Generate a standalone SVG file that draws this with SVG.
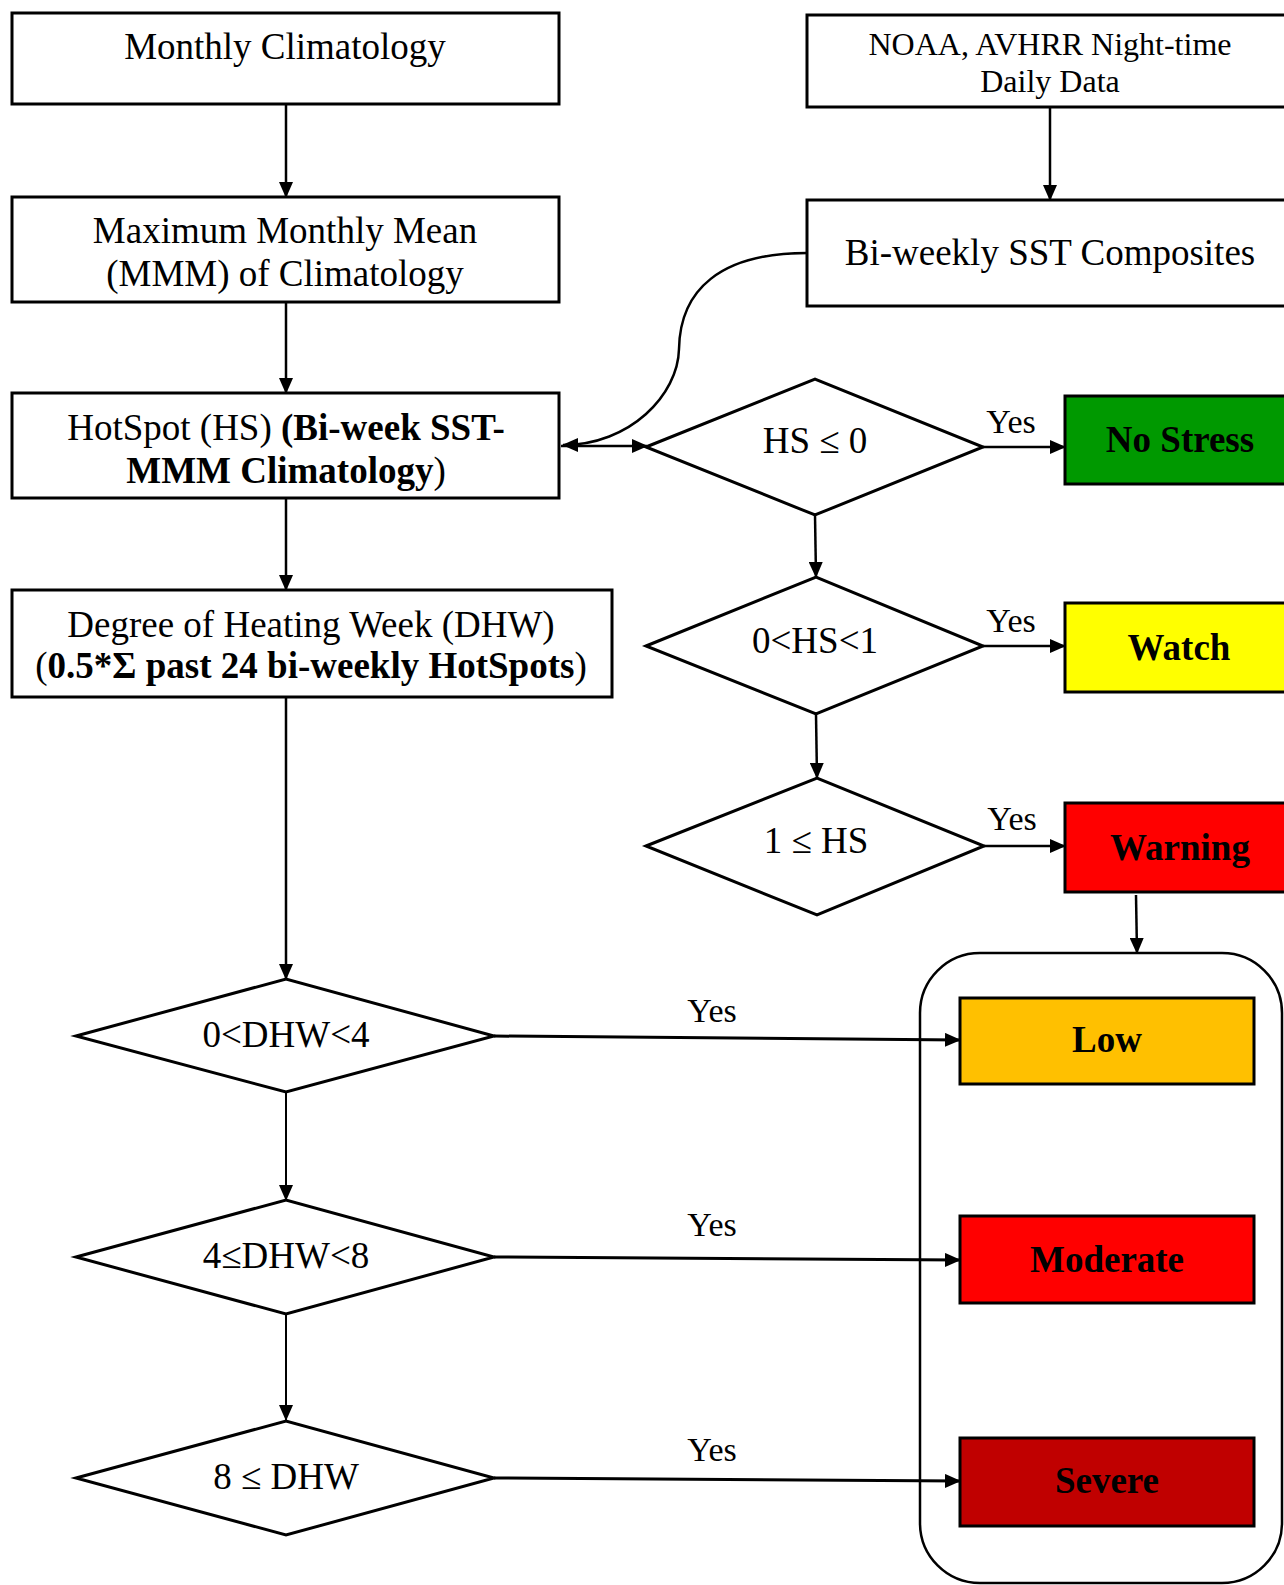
<svg xmlns="http://www.w3.org/2000/svg" width="1284" height="1585" viewBox="0 0 1284 1585">
<style>
  text { font-family: "Liberation Serif", "Times New Roman", serif; font-size: 37px; fill: #000; text-anchor: middle; }
  .box { fill: #fff; stroke: #000; stroke-width: 3; }
  .dia { fill: #fff; stroke: #000; stroke-width: 3; }
  .res { stroke: #000; stroke-width: 3; }
  .b { font-weight: bold; }
  .yes { font-size: 34px; }
  .small { font-size: 32px; }
  .con { fill: none; stroke: #000; stroke-width: 2.5; marker-end: url(#ah); }
  .thin { stroke-width: 2; }
</style>
<defs>
  <marker id="ah" markerUnits="userSpaceOnUse" markerWidth="16" markerHeight="14" refX="15" refY="7" orient="auto">
    <path d="M0,0 L16,7 L0,14 Z" fill="#000"/>
  </marker>
</defs>
<rect width="1284" height="1585" fill="#fff"/>

<g id="connectors">
  <line class="con" x1="286" y1="104" x2="286" y2="197"/>
  <line class="con" x1="286" y1="302" x2="286" y2="393"/>
  <line class="con" x1="286" y1="498" x2="286" y2="590"/>
  <line class="con" x1="286" y1="697" x2="286" y2="979"/>
  <line class="con thin" x1="286" y1="1092" x2="286" y2="1200"/>
  <line class="con thin" x1="286" y1="1314" x2="286" y2="1420"/>
  <line class="con" x1="1050" y1="107" x2="1050" y2="200"/>
  <path class="con" d="M807,253 C720,253 680,290 679,349 C678,395 630,445 563,445"/>
  <line class="con" x1="561" y1="446" x2="647" y2="446"/>
  <line class="con" x1="983" y1="447" x2="1065" y2="447"/>
  <line class="con" x1="815" y1="515" x2="816" y2="577"/>
  <line class="con" x1="983" y1="646" x2="1065" y2="646"/>
  <line class="con" x1="816" y1="714" x2="817" y2="778"/>
  <line class="con" x1="984" y1="846" x2="1065" y2="846"/>
  <line class="con" x1="1136" y1="895" x2="1137" y2="953"/>
  <line class="con" style="stroke-width:3" x1="494" y1="1036" x2="960" y2="1040"/>
  <line class="con" style="stroke-width:3" x1="494" y1="1257" x2="960" y2="1260"/>
  <line class="con" style="stroke-width:3" x1="494" y1="1478" x2="960" y2="1481"/>
  <text class="yes" x="1011" y="433">Yes</text>
  <text class="yes" x="1011" y="632">Yes</text>
  <text class="yes" x="1012" y="830">Yes</text>
  <text class="yes" x="712" y="1022">Yes</text>
  <text class="yes" x="712" y="1236">Yes</text>
  <text class="yes" x="712" y="1461">Yes</text>
</g>

<g id="monthly-climatology">
  <rect class="box" x="12" y="13" width="547" height="91"/>
  <text x="285" y="59">Monthly Climatology</text>
</g>
<g id="mmm">
  <rect class="box" x="12" y="197" width="547" height="105"/>
  <text x="285" y="243">Maximum Monthly Mean</text>
  <text x="285" y="286">(MMM) of Climatology</text>
</g>
<g id="hotspot">
  <rect class="box" x="12" y="393" width="547" height="105"/>
  <text x="286" y="440">HotSpot (HS) <tspan class="b">(Bi-week SST-</tspan></text>
  <text x="286" y="483"><tspan class="b">MMM Climatology</tspan>)</text>
</g>
<g id="dhw">
  <rect class="box" x="12" y="590" width="600" height="107"/>
  <text x="311" y="637">Degree of Heating Week (DHW)</text>
  <text x="311" y="678">(<tspan class="b">0.5*Σ past 24 bi-weekly HotSpots</tspan>)</text>
</g>
<g id="noaa">
  <rect class="box" x="807" y="15" width="495" height="92"/>
  <text class="small" x="1050" y="55">NOAA, AVHRR Night-time</text>
  <text class="small" x="1050" y="92">Daily Data</text>
</g>
<g id="biweekly">
  <rect class="box" x="807" y="200" width="495" height="106"/>
  <text x="1050" y="265">Bi-weekly SST Composites</text>
</g>

<g id="d-hs0">
  <polygon class="dia" points="646,447 815,379 983,447 815,515"/>
  <text x="815" y="453">HS ≤ 0</text>
</g>
<g id="d-hs01">
  <polygon class="dia" points="646,646 816,577 983,646 816,714"/>
  <text x="815" y="653">0&lt;HS&lt;1</text>
</g>
<g id="d-hs1">
  <polygon class="dia" points="646,846 817,778 984,846 817,915"/>
  <text x="816" y="853">1 ≤ HS</text>
</g>

<g id="no-stress">
  <rect class="res" x="1065" y="396" width="235" height="88" fill="#009900"/>
  <text class="b" x="1180" y="452">No Stress</text>
</g>
<g id="watch">
  <rect class="res" x="1065" y="603" width="235" height="89" fill="#FFFF00"/>
  <text class="b" x="1179" y="660">Watch</text>
</g>
<g id="warning">
  <rect class="res" x="1065" y="803" width="235" height="89" fill="#FF0000"/>
  <text class="b" x="1180" y="860">Warning</text>
</g>

<g id="container">
  <rect x="920" y="953" width="362" height="630" rx="60" ry="60" fill="none" stroke="#000" stroke-width="2.5"/>
</g>

<g id="d-dhw04">
  <polygon class="dia" points="76,1036 286,979 494,1036 286,1092"/>
  <text x="286" y="1047">0&lt;DHW&lt;4</text>
</g>
<g id="d-dhw48">
  <polygon class="dia" points="76,1257 286,1200 494,1257 286,1314"/>
  <text x="286" y="1268">4≤DHW&lt;8</text>
</g>
<g id="d-dhw8">
  <polygon class="dia" points="76,1478 286,1421 494,1478 286,1535"/>
  <text x="286" y="1489">8 ≤ DHW</text>
</g>

<g id="low">
  <rect class="res" x="960" y="998" width="294" height="86" fill="#FFC000"/>
  <text class="b" x="1107" y="1052">Low</text>
</g>
<g id="moderate">
  <rect class="res" x="960" y="1216" width="294" height="87" fill="#FF0000"/>
  <text class="b" x="1107" y="1272">Moderate</text>
</g>
<g id="severe">
  <rect class="res" x="960" y="1438" width="294" height="88" fill="#C00000"/>
  <text class="b" x="1107" y="1493">Severe</text>
</g>
</svg>
